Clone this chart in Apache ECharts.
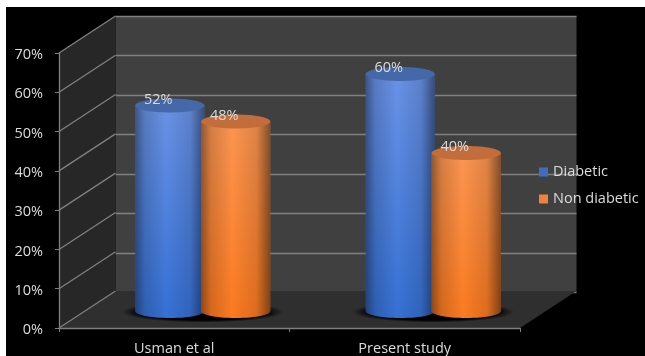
<!DOCTYPE html>
<html>
<head>
<meta charset="utf-8">
<style>html,body{margin:0;padding:0;background:#fff}#chart{width:645px;height:356px}</style>
<script src="https://cdn.jsdelivr.net/npm/echarts@6/dist/echarts.min.js"></script>
</head>
<body>
<div id="chart"></div>
<script>
// Prevalence by study group
const categories = ['Usman et al', 'Present study'];
const diabetic = [52, 60];
const nonDiabetic = [48, 40];
const valueTicks = [0, 10, 20, 30, 40, 50, 60, 70];

// Oblique projection of the chart box
const DEPTH_X = 56.5, DEPTH_Y = 37;
const PLANE = { width: 461, height: 276.5 };
const FONT = '"Open Sans", sans-serif';
const FONT_SIZE = 14.5;
const TEXT = '#dcdcdc', RULE = '#808080';

// Cylinder body with a rounded base, as a polygon
function bodyPoints(cx, topY, baseY, rx, ry) {
  const pts = [[cx - rx, topY]];
  for (let a = 180; a >= 0; a -= 6) {
    const r = a * Math.PI / 180;
    pts.push([cx + rx * Math.cos(r), baseY + ry * Math.sin(r)]);
  }
  pts.push([cx + rx, topY]);
  return pts;
}

function cylinder(offset, palette) {
  return function (params, api) {
    const band = api.size([1, 0])[0];
    const top = api.coord([api.value(0), api.value(1)]);
    const base = api.coord([api.value(0), 0]);
    const cx = top[0] + band * offset;
    const rx = band * 0.15, ry = 7;
    const pts = bodyPoints(cx, top[1], base[1], rx, ry);
    return {
      type: 'group',
      children: [
        { type: 'polygon', shape: { points: pts }, style: {
          fill: new echarts.graphic.LinearGradient(0, 0, 0, 1, [
            { offset: 0, color: palette.high },
            { offset: 1, color: palette.low }
          ]) } },
        { type: 'polygon', shape: { points: pts }, style: {
          fill: new echarts.graphic.LinearGradient(0, 0, 1, 0, [
            { offset: 0, color: 'rgba(0,0,0,0.42)' },
            { offset: 0.14, color: 'rgba(0,0,0,0.16)' },
            { offset: 0.45, color: 'rgba(0,0,0,0)' },
            { offset: 0.8, color: 'rgba(0,0,0,0.12)' },
            { offset: 1, color: 'rgba(0,0,0,0.48)' }
          ]) } },
        { type: 'ellipse', shape: { cx: cx, cy: top[1], rx: rx, ry: ry }, style: { fill: palette.cap } },
        { type: 'text', style: {
          x: cx - band * 0.05, y: top[1] - 6, text: api.value(1) + '%',
          fill: TEXT, font: FONT_SIZE + 'px ' + FONT, align: 'center', verticalAlign: 'middle' } }
      ]
    };
  };
}

// Soft contact shadow under each pair of cylinders: a circle squashed into an ellipse
function renderFloorShadow(params, api) {
  const base = api.coord([api.value(0), 0]);
  const radius = 81;
  return { type: 'circle', x: base[0], y: base[1] + 1, scaleY: 0.13,
    shape: { cx: 0, cy: 0, r: radius },
    style: { fill: new echarts.graphic.RadialGradient(0.5, 0.5, 0.5, [
      { offset: 0, color: 'rgba(0,0,0,1)' },
      { offset: 0.78, color: 'rgba(0,0,0,1)' },
      { offset: 1, color: 'rgba(0,0,0,0)' }
    ]) } };
}

// Side wall and floor behind the front axes
function renderWalls(params, api) {
  const c = params.coordSys;
  const x0 = c.x, x1 = c.x + c.width, y0 = c.y, y1 = c.y + c.height;
  const children = [
    { type: 'polygon', shape: { points: [[x0, y0], [x0 + DEPTH_X, y0 - DEPTH_Y], [x0 + DEPTH_X, y1 - DEPTH_Y], [x0, y1]] }, style: { fill: '#272727' } },
    { type: 'polygon', shape: { points: [[x0, y1], [x1, y1], [x1 + DEPTH_X, y1 - DEPTH_Y], [x0 + DEPTH_X, y1 - DEPTH_Y]] }, style: { fill: '#2f2f2f' } }
  ];
  valueTicks.forEach(function (v) {
    const y = api.coord([0, v])[1];
    children.push({ type: 'line', shape: { x1: x0, y1: y, x2: x0 + DEPTH_X, y2: y - DEPTH_Y },
      style: { stroke: RULE, lineWidth: 1.3 } });
  });
  return { type: 'group', children: children };
}

const hiddenCategory = (gridIndex) => ({ type: 'category', gridIndex, data: categories, show: false });
const hiddenValue = (gridIndex) => ({ type: 'value', gridIndex, min: 0, max: 70, interval: 10, show: false });

const chart = echarts.init(document.getElementById('chart'), null, { renderer: 'canvas' });
chart.setOption({
  animation: false,
  backgroundColor: '#fff',
  graphic: [{ type: 'rect', z: -10, shape: { x: 6, y: 7, width: 639, height: 349 }, style: { fill: '#000' } }],
  legend: {
    data: ['Diabetic', 'Non diabetic'],
    orient: 'vertical', left: 539, top: 163, padding: 0,
    itemWidth: 9, itemHeight: 9, itemGap: 9,
    icon: 'rect',
    textStyle: { color: TEXT, fontSize: FONT_SIZE, fontFamily: FONT, lineHeight: 18 }
  },
  grid: [
    // front plane: carries the visible axes
    { left: 59, top: 53, width: PLANE.width, height: PLANE.height },
    // middle plane: the cylinders stand here
    { left: 87.5, top: 34.5, width: PLANE.width, height: PLANE.height },
    // back wall
    { left: 115.5, top: 16, width: PLANE.width, height: PLANE.height, show: true, backgroundColor: '#404040', borderWidth: 0 }
  ],
  xAxis: [
    { type: 'category', gridIndex: 0, data: categories, z: 5,
      axisLine: { lineStyle: { color: RULE, width: 1.3 } },
      axisTick: { show: true, length: 4, alignWithLabel: false, lineStyle: { color: RULE } },
      axisLabel: { color: TEXT, fontSize: FONT_SIZE, fontFamily: FONT, margin: 13 } },
    hiddenCategory(1),
    hiddenCategory(2)
  ],
  yAxis: [
    { type: 'value', gridIndex: 0, min: 0, max: 70, interval: 10, z: 5,
      axisLine: { show: true, lineStyle: { color: RULE, width: 1.3 } },
      axisTick: { show: true, length: 4, lineStyle: { color: RULE } },
      splitLine: { show: false },
      axisLabel: { color: TEXT, fontSize: FONT_SIZE, fontFamily: FONT, margin: 16, verticalAlign: 'top', lineHeight: 4, formatter: '{value}%' } },
    hiddenValue(1),
    { type: 'value', gridIndex: 2, min: 0, max: 70, interval: 10,
      axisLine: { show: false }, axisTick: { show: false }, axisLabel: { show: false },
      splitLine: { show: true, lineStyle: { color: RULE, width: 1.3 } } }
  ],
  series: [
    { type: 'custom', name: 'walls', xAxisIndex: 0, yAxisIndex: 0, z: 1, silent: true,
      data: [[0, 0]], renderItem: renderWalls },
    { type: 'custom', name: 'floor shadow', xAxisIndex: 1, yAxisIndex: 1, z: 2, silent: true,
      data: categories.map((c, i) => [i, 0]), renderItem: renderFloorShadow },
    { type: 'custom', name: 'Diabetic', xAxisIndex: 1, yAxisIndex: 1, z: 3,
      itemStyle: { color: '#3f6dc4' },
      data: diabetic.map((v, i) => [i, v]),
      renderItem: cylinder(-0.143, { high: '#6a93e6', low: '#3570d4', cap: '#4568a8' }) },
    { type: 'custom', name: 'Non diabetic', xAxisIndex: 1, yAxisIndex: 1, z: 3,
      itemStyle: { color: '#f0823a' },
      data: nonDiabetic.map((v, i) => [i, v]),
      renderItem: cylinder(0.143, { high: '#fb9652', low: '#fb7a20', cap: '#c46d3c' }) }
  ]
});
</script>
</body>
</html>
